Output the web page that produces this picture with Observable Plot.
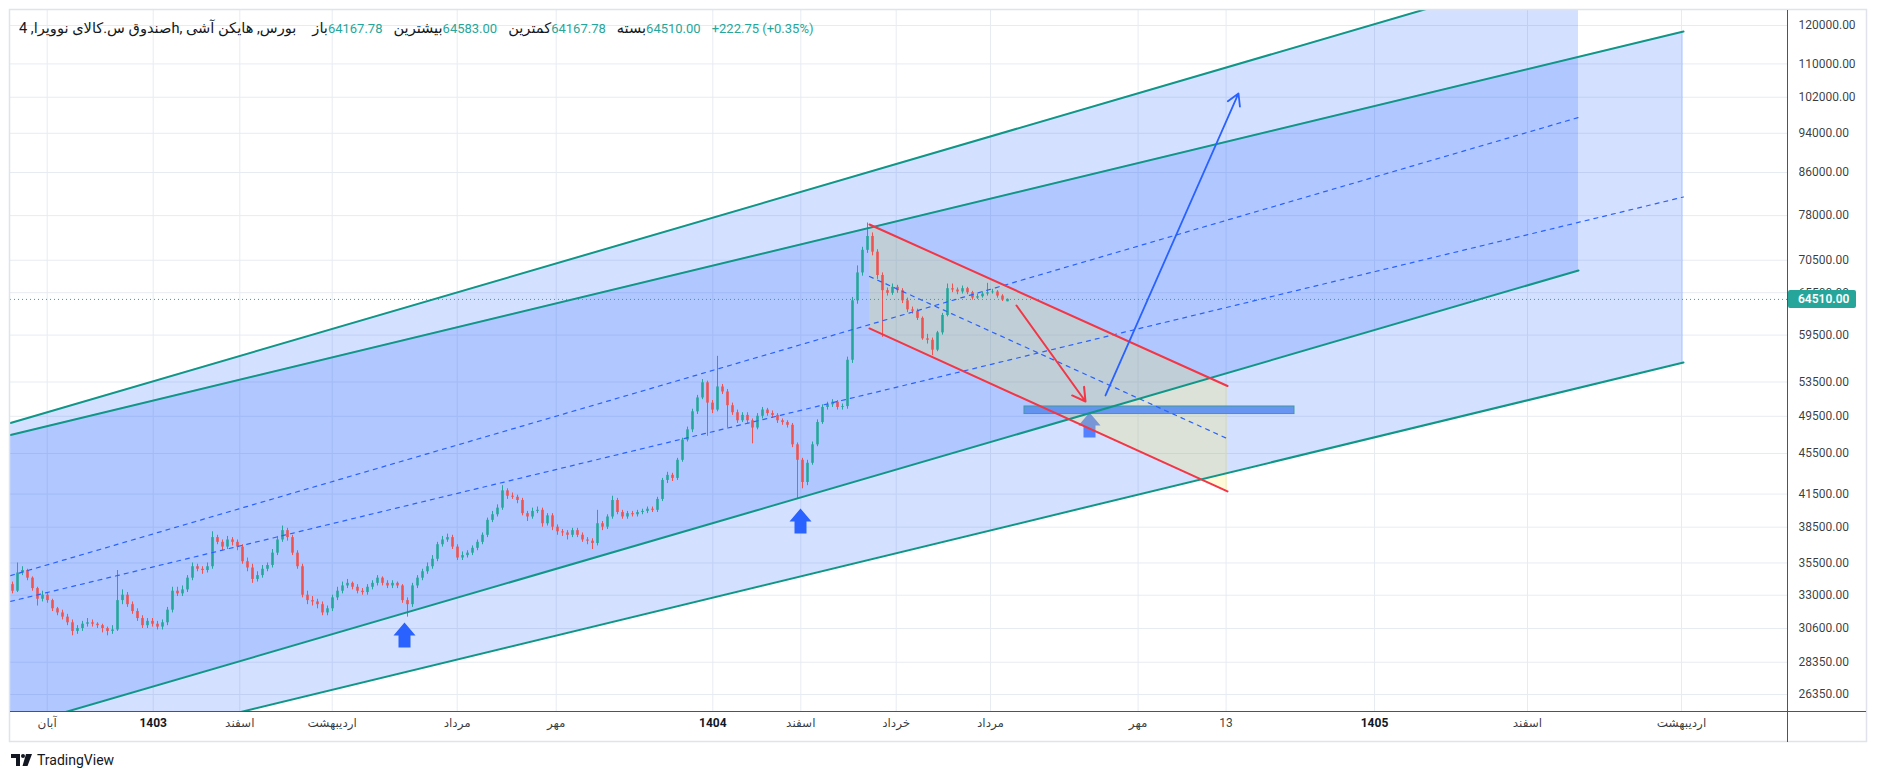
<!DOCTYPE html>
<html>
<head>
<meta charset="utf-8">
<script src="https://cdn.jsdelivr.net/npm/d3@7"></script>
<script src="https://cdn.jsdelivr.net/npm/@observablehq/plot@0.6"></script>
<style>
  html, body { margin: 0; padding: 0; background: #ffffff; overflow: hidden; }
  #wrap { position: relative; width: 1879px; height: 781px; }
  #legend { position: absolute; left: 19px; top: 19px; font: 13px Roboto, "DejaVu Sans", sans-serif; color: #131722; white-space: nowrap; direction: ltr; line-height: 18px; }
  #legend span { unicode-bidi: isolate; }
  #legend .v { color: #26a69a; margin-right: 11px; }
  #legend .t, #legend .l { font-size: 14.6px; }
  #legend .t { margin-right: 16px; }
  #logo { position: absolute; left: 11px; top: 752px; font: 14px Roboto, sans-serif; color: #131722; display: flex; align-items: center; gap: 4px; }
</style>
</head>
<body>
<div id="wrap">
  <div id="chart"></div>
  <div id="legend"></div>
  <div id="logo"><svg width="22" height="12" viewBox="0 0 22 12"><path d="M0 0H9V12H5V4H0Z" fill="#131722"/><circle cx="12" cy="2" r="2" fill="#131722"/><path d="M15 0H21L16.5 12H11.5Z" fill="#131722"/></svg><span>TradingView</span></div>
</div>
<script>
// ---- data ----
const title = "صندوق س.کالای نوویرا, 4h, بورس, هایکن آشی";
const legendLabels = ["باز", "بیشترین", "کمترین", "بسته"];
const legendValues = ["64167.78", "64583.00", "64167.78", "64510.00"];
const legendChange = "+222.75 (+0.35%)";
const lastPrice = 64510;

const yTicks = [120000,110000,102000,94000,86000,78000,70500,65500,59500,53500,49500,45500,41500,38500,35500,33000,30600,28350,26350];
const xTickPos = [6.94, 28.14, 45.46, 63.94, 88.94, 108.74, 140.06, 157.66, 176.74, 195.6, 225.12, 242.72, 272.4, 303, 333.8];
const xTickLabels = ["آبان","1403","اسفند","اردیبهشت","مرداد","مهر","1404","اسفند","خرداد","مرداد","مهر","13","1405","اسفند","اردیبهشت"];
const yearLabels = ["1403","1404","1405"];

// Heikin Ashi candles (one per bar index)
const candleOpen = [
33800,33300,34700,34900,34300,33500,32700,33000,32600,32000,
31700,31400,31000,30400,30600,30900,31000,30900,30800,30600,
30400,30500,32600,33000,32300,31800,31300,30800,31100,30900,
30700,31000,31900,33300,33100,33400,34300,35200,35000,34900,
35200,37600,37200,36800,37400,37200,36800,35600,35100,34200,
34500,35000,35300,36300,37400,38200,37600,36300,35200,33000,
32600,32500,32300,31700,32000,32800,33300,33700,33900,33600,
33300,33200,33600,33900,34300,33900,33700,33900,33700,32600,
32300,33700,34300,34800,35200,35800,37000,37400,37600,36800,
35900,36100,36300,36700,37200,37800,39100,39600,40200,41800,
41300,41200,40900,39700,39400,39900,40000,38800,39500,38500,
38100,38000,37800,38200,37800,37400,37300,37100,38800,38500,
39400,40900,39800,39400,39700,39600,39800,39900,40100,40000,
41000,42800,43300,43000,44800,46900,48000,50000,51600,53400,
51000,50200,52900,52300,50700,49900,49000,49600,49000,48200,
49500,50200,49800,49600,49000,48800,48500,46400,44800,42600,
44500,46400,48800,50500,50800,51100,50500,50600,56200,64300,
68500,72100,74400,71800,68100,65800,65400,66300,65800,64300,
63000,62800,61800,59000,58800,57500,59800,62200,66100,65900,
65600,66100,65500,64700,64900,65300,65500,65600,65000,64167.78];
const candleHigh = [
34000,35500,35200,35000,34400,33600,33300,33200,32700,32100,
31900,31600,31200,30800,31100,31300,31200,31000,30900,30700,
30800,34900,33400,33200,32500,32000,31500,31300,31300,31100,
31200,32100,33600,33600,33700,34500,35500,35400,35200,35500,
38100,37800,37400,37700,37600,37400,37000,35900,35400,34800,
35300,35500,36600,37700,38600,38400,37800,36500,35400,33300,
32900,32700,32500,32200,33000,33600,34000,34200,34000,33800,
33500,33800,34100,34500,34400,34100,34100,34000,33800,32800,
33900,34500,35000,35500,36100,37200,37700,37900,37800,37000,
36400,36500,36900,37400,38000,39300,39900,40500,42300,42000,
41600,41400,41100,39900,40200,40300,40200,39700,39700,38700,
38300,38200,38400,38400,38000,37600,37500,40000,39000,39600,
41300,41100,40000,39900,39900,40000,40100,40300,40300,41200,
43000,43600,43500,45000,47100,48300,50300,51900,53800,53600,
51300,56700,53200,52600,51000,50200,49900,49900,49200,49800,
50500,50400,50100,49800,49200,49000,48700,46600,45000,44800,
46700,49100,50800,51100,51400,51300,50900,56600,64800,69600,
72600,76700,75000,72200,68500,66200,66800,66600,66100,64700,
63400,63100,62000,59600,59100,60000,62500,66800,66800,66200,
66500,66300,65700,65300,65600,66900,66000,65800,65200,64583];
const candleLow = [
33100,33200,34500,34100,33300,32200,32500,32400,31800,31500,
31200,30800,30100,30200,30400,30700,30700,30600,30300,30100,
30200,30400,32300,32100,31600,31100,30600,30600,30700,30500,
30500,30800,31700,32900,32900,33200,34100,34800,34600,34700,
35000,37000,36500,36600,36900,36500,35400,34800,33900,34000,
34300,34800,35100,36100,37200,37300,36100,35000,32800,32300,
32200,32000,31500,31500,31800,32600,33100,33500,33400,33100,
33000,33000,33400,33700,33700,33500,33500,33500,32400,31400,
32100,33500,34100,34600,35000,35600,36800,37200,36600,35700,
35700,35900,36100,36500,37000,37600,38900,39400,40000,41000,
41000,40600,39500,39000,39200,39700,38500,38600,38200,37800,
37700,37400,37600,37600,37200,37000,36600,36900,38200,38300,
39200,39600,39200,39200,39400,39400,39600,39700,39800,39800,
40800,42500,42700,42800,44600,46700,47700,49700,51400,47300,
49800,50000,52000,48200,49600,48700,48800,48700,46500,48000,
49200,49500,49300,48700,48500,48200,46100,41000,42000,42300,
44300,46200,48600,50200,50500,50200,50200,50300,55800,63800,
68000,71600,71200,67500,59200,65000,65100,65400,63900,62600,
62400,61500,58800,58300,56800,57300,59500,62000,65500,65200,
65300,65200,64400,64500,64700,65000,65300,64700,64200,64167.78];
const candleClose = [
33300,34700,34900,34300,33500,32700,33000,32600,32000,31700,
31400,31000,30400,30600,30900,31000,30900,30800,30600,30400,
30500,32600,33000,32300,31800,31300,30800,31100,30900,30700,
31000,31900,33300,33100,33400,34300,35200,35000,34900,35200,
37600,37200,36800,37400,37200,36800,35600,35100,34200,34500,
35000,35300,36300,37400,38200,37600,36300,35200,33000,32600,
32500,32300,31700,32000,32800,33300,33700,33900,33600,33300,
33200,33600,33900,34300,33900,33700,33900,33700,32600,32300,
33700,34300,34800,35200,35800,37000,37400,37600,36800,35900,
36100,36300,36700,37200,37800,39100,39600,40200,41800,41300,
41200,40900,39700,39400,39900,40000,38800,39500,38500,38100,
38000,37800,38200,37800,37400,37300,37100,38800,38500,39400,
40900,39800,39400,39700,39600,39800,39900,40100,40000,41000,
42800,43300,43000,44800,46900,48000,50000,51600,53400,51000,
50200,52900,52300,50700,49900,49000,49600,49000,48200,49500,
50200,49800,49600,49000,48800,48500,46400,44800,42600,44500,
46400,48800,50500,50800,51100,50500,50600,56200,64300,68500,
72100,74400,71800,68100,65800,65400,66300,65800,64300,63000,
62800,61800,59000,58800,57500,59800,62200,66100,65900,65600,
66100,65500,64700,64900,65300,65500,65600,65000,64400,64510];

// drawings: [bar index, price]
const ch1Top = [[-0.4, 48750], [313.2, 137800]];
const ch1Bot = [[-0.4, 24420], [313.2, 68880]];
const ch1Mid = [[-0.4, 34500], [313.2, 97430]];
const ch2Top = [[-0.4, 47450], [334.2, 118380]];
const ch2Bot = [[-0.4, 22320], [334.2, 55920]];
const ch2Mid = [[-0.4, 32540], [334.2, 81360]];
const redTop = [[171.4, 76450], [243, 53020]];
const redBot = [[171.4, 60400], [243, 41750]];
const redMid = [[171.4, 67950], [243, 47050]];
const redArrow = {from: [200.8, 63630], to: [214.6, 51190]};
const blueArrow = {from: [218.6, 51890], to: [245.2, 102870]};
const zoneRect = {x1: 202.4, x2: 256.4, y1: 49750, y2: 50610};
const upMarkers = [[78.4, 30160], [157.6, 39050]];
const upMarkersLate = [[215.4, 48530]];

// ---- build ----
const GREEN = "#26a69a", RED = "#ef5350";
const candles = candleClose.map((c, i) => ({
  i, o: candleOpen[i], h: candleHigh[i], l: candleLow[i], c,
  col: c >= candleOpen[i] ? GREEN : RED
}));
const band = (hiLine, loLine) => hiLine.map((d, k) => ({x: d[0], hi: d[1], lo: loLine[k][1]}));
const ptX = d => d[0], ptY = d => d[1];

const upArrowSymbol = {
  draw(ctx) {
    ctx.moveTo(0, -12.5);
    ctx.lineTo(11, 0.5);
    ctx.lineTo(6, 0.5);
    ctx.lineTo(6, 12.5);
    ctx.lineTo(-6, 12.5);
    ctx.lineTo(-6, 0.5);
    ctx.lineTo(-11, 0.5);
    ctx.closePath();
  }
};

const TEAL = "#0f9687";
const BLUE = "#2962ff";

const chart = Plot.plot({
  width: 1879,
  height: 781,
  marginLeft: 10,
  marginRight: 92,
  marginTop: 10,
  marginBottom: 70,
  style: {fontFamily: "Roboto, 'DejaVu Sans', sans-serif", fontSize: "12px", background: "transparent", overflow: "visible"},
  x: {domain: [-0.4, 355], axis: null},
  y: {type: "log", domain: [25355, 124153], axis: null},
  marks: [
    Plot.ruleY(yTicks, {stroke: "#e7ecf2", strokeWidth: 1}),
    Plot.ruleX(xTickPos, {stroke: "#e7ecf2", strokeWidth: 1}),
    Plot.areaY(band(ch2Top, ch2Bot), {x: "x", y1: "lo", y2: "hi", fill: BLUE, fillOpacity: 0.2, curve: "linear", clip: true}),
    Plot.areaY(band(ch1Top, ch1Bot), {x: "x", y1: "lo", y2: "hi", fill: BLUE, fillOpacity: 0.2, curve: "linear", clip: true}),
    Plot.dot(upMarkers, {x: ptX, y: ptY, symbol: upArrowSymbol, r: 10, fill: BLUE, stroke: null}),
    Plot.dot(upMarkersLate, {x: ptX, y: ptY, symbol: upArrowSymbol, r: 10, fill: BLUE, fillOpacity: 0.75, stroke: null}),
    Plot.areaY(band(redTop, redBot), {x: "x", y1: "lo", y2: "hi", fill: "#ffeb3b", fillOpacity: 0.2, curve: "linear", clip: true}),
    Plot.rect([zoneRect], {x1: "x1", x2: "x2", y1: "y1", y2: "y2", fill: "#5b8df0", fillOpacity: 0.9, stroke: "#3f9aa0", strokeWidth: 1}),
    Plot.ruleX(candles, {x: "i", y1: "l", y2: "h", stroke: "col", strokeWidth: 1}),
    Plot.ruleX(candles, {x: "i", y1: "o", y2: "c", stroke: "col", strokeWidth: 2.6}),
    Plot.ruleY([lastPrice], {stroke: GREEN, strokeWidth: 1, strokeDasharray: "1,3"}),
    Plot.line(ch1Mid, {x: ptX, y: ptY, stroke: BLUE, strokeWidth: 1.2, strokeDasharray: "4,5", clip: true}),
    Plot.line(ch2Mid, {x: ptX, y: ptY, stroke: BLUE, strokeWidth: 1.2, strokeDasharray: "4,5", clip: true}),
    Plot.line(redMid, {x: ptX, y: ptY, stroke: BLUE, strokeWidth: 1.2, strokeDasharray: "4,5", clip: true}),
    Plot.line(ch1Top, {x: ptX, y: ptY, stroke: TEAL, strokeWidth: 2, clip: true}),
    Plot.line(ch1Bot, {x: ptX, y: ptY, stroke: TEAL, strokeWidth: 2, clip: true}),
    Plot.line(ch2Top, {x: ptX, y: ptY, stroke: TEAL, strokeWidth: 2, clip: true}),
    Plot.line(ch2Bot, {x: ptX, y: ptY, stroke: TEAL, strokeWidth: 2, clip: true}),
    Plot.line(redTop, {x: ptX, y: ptY, stroke: "#f23645", strokeWidth: 2, clip: true}),
    Plot.line(redBot, {x: ptX, y: ptY, stroke: "#f23645", strokeWidth: 2, clip: true}),
    Plot.arrow([redArrow], {x1: d => d.from[0], y1: d => d.from[1], x2: d => d.to[0], y2: d => d.to[1], stroke: "#f23645", strokeWidth: 2, headLength: 11, bend: 0}),
    Plot.arrow([blueArrow], {x1: d => d.from[0], y1: d => d.from[1], x2: d => d.to[0], y2: d => d.to[1], stroke: BLUE, strokeWidth: 1.8, headLength: 11, bend: 0}),
    Plot.text(yTicks, {y: d => d, text: d => d.toFixed(2), frameAnchor: "right", dx: 11, textAnchor: "start", fill: "#131722", fillOpacity: 0.85, fontSize: 12}),
    Plot.text(xTickPos.map((p, k) => ({p, t: xTickLabels[k]})).filter(d => !yearLabels.includes(d.t)),
      {x: "p", text: "t", frameAnchor: "bottom", dy: 15, fill: "#131722", fillOpacity: 0.85, fontSize: 12}),
    Plot.text(xTickPos.map((p, k) => ({p, t: xTickLabels[k]})).filter(d => yearLabels.includes(d.t)),
      {x: "p", text: "t", frameAnchor: "bottom", dy: 15, fill: "#131722", fontSize: 12, fontWeight: "bold"})
  ]
});

document.getElementById("chart").appendChild(chart);

// frame, axis lines and last-price badge positioned with the plot's scales
const svg = d3.select(chart);
const yS = chart.scale("y"), xS = chart.scale("x");
const pLeft = xS.range[0], pRight = xS.range[1];
const pTop = yS.range[1], pBottom = yS.range[0];
const deco = svg.append("g");
deco.append("rect").attr("x", pLeft - 0.5).attr("y", pTop - 0.5).attr("width", 1867 - pLeft).attr("height", 742 - pTop)
  .attr("fill", "none").attr("stroke", "#e0e3eb").attr("stroke-width", 1.5);
deco.append("line").attr("x1", pLeft).attr("x2", 1866).attr("y1", pBottom + 0.5).attr("y2", pBottom + 0.5).attr("stroke", "#50535e").attr("stroke-width", 1);
deco.append("line").attr("x1", pRight + 0.5).attr("x2", pRight + 0.5).attr("y1", pTop).attr("y2", 742).attr("stroke", "#50535e").attr("stroke-width", 1);
const yp = yS.apply(lastPrice);
deco.append("rect").attr("x", pRight + 1).attr("y", yp - 9).attr("width", 68).attr("height", 18).attr("rx", 2).attr("fill", GREEN);
deco.append("text").attr("x", pRight + 11).attr("y", yp).attr("dy", "0.35em").attr("text-anchor", "start").attr("fill", "#ffffff")
  .attr("font-size", 12).attr("font-weight", 600).attr("font-family", "Roboto, sans-serif").text(lastPrice.toFixed(2));

// legend
const lg = document.getElementById("legend");
const tt = document.createElement("span"); tt.className = "t"; tt.textContent = title; lg.appendChild(tt);
legendLabels.forEach((l, k) => {
  const a = document.createElement("span"); a.className = "l"; a.textContent = l; lg.appendChild(a);
  const b = document.createElement("span"); b.className = "v"; b.textContent = legendValues[k]; lg.appendChild(b);
});
const chg = document.createElement("span"); chg.className = "v"; chg.textContent = legendChange; lg.appendChild(chg);
</script>
</body>
</html>
